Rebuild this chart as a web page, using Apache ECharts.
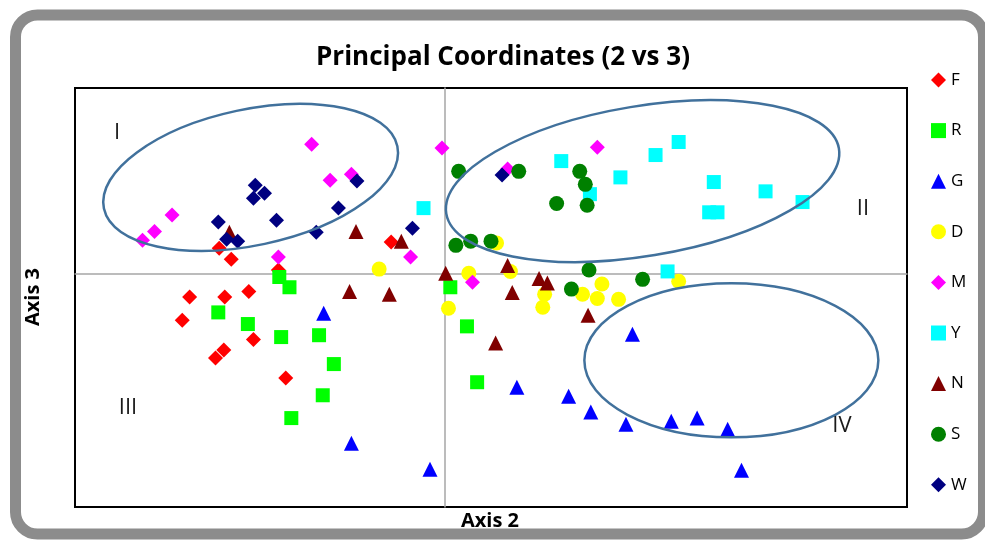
<!DOCTYPE html>
<html>
<head>
<meta charset="utf-8">
<script src="https://cdn.jsdelivr.net/npm/echarts@6/dist/echarts.min.js"></script>
<style>
  html, body { margin: 0; padding: 0; background: #fff; }
  #chart { width: 985px; height: 540px; }
</style>
</head>
<body>
<div id="chart"></div>
<script>
// groups, in legend order
const groups = ['F', 'R', 'G', 'D', 'M', 'Y', 'N', 'S', 'W'];

// [axis 2, axis 3] scores per group
const F = [[-0.244, 0.056], [-0.231, 0.032], [-0.058, 0.069], [-0.180, 0.009], [-0.276, -0.049], [-0.238, -0.049],
           [-0.212, -0.037], [-0.284, -0.099], [-0.207, -0.140], [-0.239, -0.163], [-0.248, -0.180], [-0.172, -0.223]];
const R = [[-0.179, -0.006], [-0.168, -0.028], [-0.245, -0.082], [-0.213, -0.107], [-0.177, -0.135], [-0.136, -0.131],
           [-0.120, -0.193], [-0.132, -0.260], [-0.166, -0.309], [0.006, -0.028], [0.024, -0.112], [0.035, -0.232]];
const G = [[-0.131, -0.084], [-0.101, -0.363], [-0.016, -0.419], [0.203, -0.129], [0.078, -0.243], [0.134, -0.262],
           [0.158, -0.296], [0.196, -0.322], [0.245, -0.316], [0.273, -0.309], [0.306, -0.333], [0.321, -0.421]];
const D = [[-0.071, 0.011], [0.056, 0.067], [0.026, 0.002], [0.071, 0.006], [0.004, -0.073], [0.108, -0.043],
           [0.106, -0.071], [0.149, -0.043], [0.165, -0.052], [0.170, -0.021], [0.188, -0.054], [0.253, -0.015]];
const M = [[-0.144, 0.279], [-0.003, 0.271], [-0.124, 0.202], [-0.101, 0.215], [-0.295, 0.127], [-0.314, 0.092],
           [-0.327, 0.073], [-0.180, 0.037], [-0.037, 0.037], [0.165, 0.273], [0.068, 0.226], [0.030, -0.017]];
const Y = [[-0.023, 0.142], [0.126, 0.243], [0.228, 0.256], [0.253, 0.284], [0.190, 0.208], [0.157, 0.172],
           [0.291, 0.198], [0.347, 0.178], [0.387, 0.155], [0.286, 0.133], [0.295, 0.133], [0.241, 0.006]];
const N = [[-0.233, 0.090], [-0.096, 0.092], [-0.047, 0.071], [-0.103, -0.037], [-0.060, -0.043], [0.001, 0.002],
           [0.068, 0.019], [0.073, -0.039], [0.102, -0.009], [0.111, -0.019], [0.155, -0.088], [0.055, -0.148]];
const S = [[0.015, 0.221], [0.080, 0.221], [0.146, 0.221], [0.152, 0.193], [0.121, 0.152], [0.154, 0.148],
           [0.012, 0.062], [0.028, 0.071], [0.050, 0.071], [0.156, 0.009], [0.137, -0.032], [0.214, -0.011]];
const W = [[-0.205, 0.191], [-0.195, 0.174], [-0.207, 0.163], [-0.245, 0.112], [-0.182, 0.116], [-0.115, 0.142],
           [-0.095, 0.200], [-0.139, 0.090], [-0.236, 0.075], [-0.224, 0.071], [-0.035, 0.099], [0.062, 0.213]];

const values = { F, R, G, D, M, Y, N, S, W };

// marker look per group
const looks = {
    F: { symbol: 'diamond', size: 15, color: '#ff0000' },
    R: { symbol: 'rect', size: 14, color: '#00ff00' },
    G: { symbol: 'triangle', size: 15, color: '#0000ff' },
    D: { symbol: 'circle', size: 15, color: '#ffff00' },
    M: { symbol: 'diamond', size: 15, color: '#ff00ff' },
    Y: { symbol: 'rect', size: 14, color: '#00ffff' },
    N: { symbol: 'triangle', size: 15, color: '#800000' },
    S: { symbol: 'circle', size: 15, color: '#008000' },
    W: { symbol: 'diamond', size: 15, color: '#000080' }
};

// cluster ellipses: centre in axis units, radii in px, tilt in degrees
const clusters = [
    { center: [-0.210, 0.208], rx: 150, ry: 68, tilt: 12 },
    { center: [0.214, 0.200], rx: 199, ry: 75, tilt: 9.4 },
    { center: [0.310, -0.185], rx: 147, ry: 77, tilt: 0 }
];
const quadrantLabels = [['I', 117, 133], ['II', 863, 209], ['III', 128, 408], ['IV', 842, 426]];

const chart = echarts.init(document.getElementById('chart'));

const textFont = '"Open Sans", "Noto Sans", sans-serif';

chart.setOption({
    backgroundColor: '#fff',
    animation: false,
    grid: {
        left: 75, top: 88, width: 832, height: 419,
        show: true, borderColor: '#000', borderWidth: 2, backgroundColor: '#fff'
    },
    xAxis: {
        type: 'value', min: -0.4, max: 0.5,
        axisLine: { onZero: true, lineStyle: { color: '#a6a6a6', width: 1.5 } },
        axisTick: { show: false }, axisLabel: { show: false }, splitLine: { show: false }
    },
    yAxis: {
        type: 'value', min: -0.5, max: 0.4,
        axisLine: { onZero: true, lineStyle: { color: '#a6a6a6', width: 1.5 } },
        axisTick: { show: false }, axisLabel: { show: false }, splitLine: { show: false }
    },
    legend: {
        orient: 'vertical', left: 926, top: 66.5,
        itemWidth: 15, itemHeight: 15, itemGap: 33.6,
        textStyle: { color: '#000', fontSize: 17, fontFamily: textFont },
        data: groups
    },
    series: groups.map(g => ({
        name: g,
        type: 'scatter',
        symbol: looks[g].symbol,
        symbolSize: looks[g].size,
        itemStyle: { color: looks[g].color, opacity: 1 },
        data: values[g]
    }))
});

// frame, titles, ellipses and roman numerals
const extra = [
    {
        type: 'rect', z: -1, silent: true,
        shape: { x: 15.5, y: 15, width: 968, height: 519, r: 22 },
        style: { fill: 'none', stroke: '#8c8c8c', lineWidth: 11 }
    },
    {
        type: 'text', x: 503, y: 58,
        style: { text: 'Principal Coordinates (2 vs 3)', fill: '#000', font: 'bold 26px ' + textFont, align: 'center', verticalAlign: 'middle' }
    },
    {
        type: 'text', x: 490, y: 521,
        style: { text: 'Axis 2', fill: '#000', font: 'bold 20px ' + textFont, align: 'center', verticalAlign: 'middle' }
    },
    {
        type: 'text', x: 33, y: 297, rotation: Math.PI / 2,
        style: { text: 'Axis 3', fill: '#000', font: 'bold 20px ' + textFont, align: 'center', verticalAlign: 'middle' }
    }
];
clusters.forEach(c => {
    const p = chart.convertToPixel({ gridIndex: 0 }, c.center);
    extra.push({
        type: 'ellipse', z: 10, silent: true,
        x: p[0], y: p[1], rotation: c.tilt * Math.PI / 180,
        shape: { cx: 0, cy: 0, rx: c.rx, ry: c.ry },
        style: { fill: 'none', stroke: '#41719c', lineWidth: 2.5 }
    });
});
quadrantLabels.forEach(q => {
    extra.push({
        type: 'text', z: 10, x: q[1], y: q[2],
        style: { text: q[0], fill: '#1a1a1a', font: '22px ' + textFont, align: 'center', verticalAlign: 'middle' }
    });
});
chart.setOption({ graphic: extra });
</script>
</body>
</html>
